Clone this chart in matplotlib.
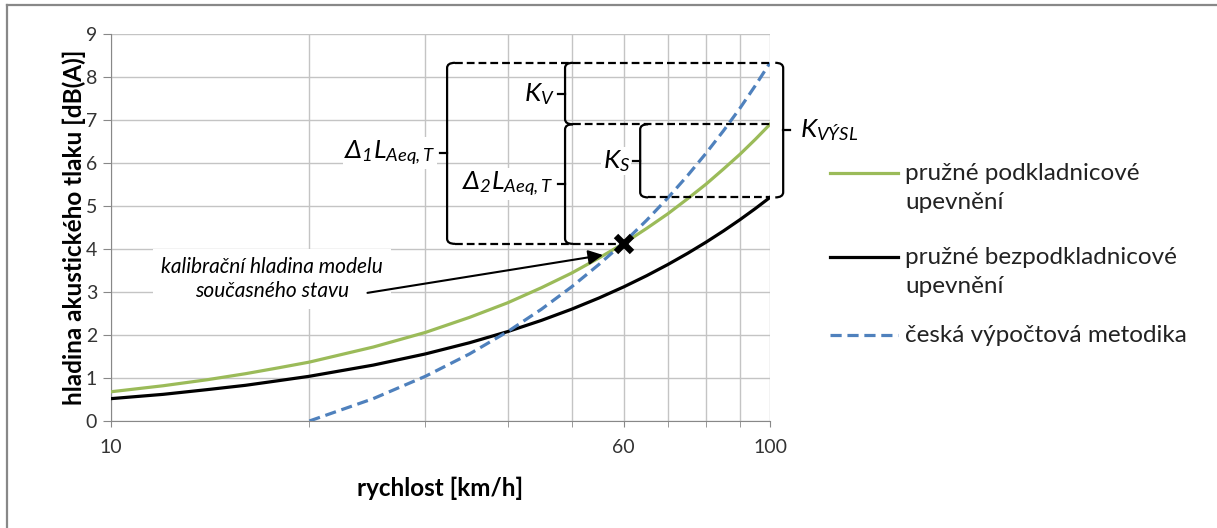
import matplotlib
matplotlib.use("Agg")
import matplotlib.pyplot as plt
from matplotlib.lines import Line2D
from matplotlib.path import Path
from matplotlib.patches import PathPatch
import matplotlib.transforms as mtransforms

plt.rcParams['font.family'] = ['Lato', 'DejaVu Sans']
plt.rcParams['mathtext.fontset'] = 'custom'
plt.rcParams['mathtext.it'] = 'Lato:italic'
plt.rcParams['mathtext.rm'] = 'Lato:italic'
plt.rcParams['mathtext.bf'] = 'Lato:bold'

# data
speed = [10, 12, 14, 16, 18, 20, 25, 30, 35, 40, 45, 50, 55, 60, 65, 70, 75, 80, 85, 90, 95, 100]
podkladnicove = [0.68, 0.82, 0.96, 1.10, 1.24, 1.37, 1.72, 2.06, 2.41, 2.75, 3.10, 3.44, 3.79,
                 4.13, 4.48, 4.82, 5.17, 5.51, 5.86, 6.20, 6.55, 6.90]
bezpodkladnicove = [0.52, 0.62, 0.73, 0.83, 0.94, 1.04, 1.30, 1.56, 1.82, 2.08, 2.34, 2.60, 2.86,
                    3.12, 3.38, 3.64, 3.90, 4.16, 4.42, 4.68, 4.94, 5.20]
speed_cz = [20, 25, 30, 35, 40, 45, 50, 55, 60, 65, 70, 75, 80, 85, 90, 95, 100]
metodika = [0.0, 0.52, 1.04, 1.56, 2.08, 2.60, 3.12, 3.64, 4.15, 4.67, 5.19, 5.71, 6.23,
            6.75, 7.27, 7.80, 8.33]
calib_speed = 60
calib_level = 4.12

names = ['pružné podkladnicové\nupevnění', 'pružné bezpodkladnicové\nupevnění', 'česká výpočtová metodika']
colors = ['#9bbb59', '#000000', '#4f81bd']

fig = plt.figure(figsize=(12.17, 5.28), dpi=100)
ax = fig.add_axes([111 / 1217, 107 / 528, 659 / 1217, 387 / 528])

ax.plot(speed, podkladnicove, color=colors[0], lw=2.3, zorder=4)
ax.plot(speed, bezpodkladnicove, color=colors[1], lw=2.3, zorder=4)
ax.plot(speed_cz, metodika, color=colors[2], lw=2.3, dashes=(3.5, 1.8), zorder=4)
ax.plot([calib_speed], [calib_level], marker='x', color='black', ms=11, mew=4.5, zorder=6)

ax.set_xscale('log')
ax.set_xlim(10, 100)
ax.set_ylim(0, 9)
ax.set_xticks([10, 60, 100])
ax.set_xticklabels(['10', '60', '100'])
ax.set_xticks([20, 30, 40, 50, 70, 80, 90], minor=True)
ax.xaxis.set_minor_formatter(matplotlib.ticker.NullFormatter())
ax.set_yticks(range(0, 10))
ax.grid(True, which='both', color='#c4c4c4', lw=1.0, zorder=0)
for s in ['top', 'right']:
    ax.spines[s].set_visible(False)
for s in ['left', 'bottom']:
    ax.spines[s].set_color('#888888')
ax.tick_params(axis='both', which='both', colors='#888888', labelcolor='#333333', labelsize=14)
ax.tick_params(axis='y', length=6, pad=4)
ax.tick_params(axis='x', which='both', length=4, pad=9)

ax.set_xlabel('rychlost [km/h]', fontsize=17.5, fontweight='bold', labelpad=15)
ax.set_ylabel('hladina akustického tlaku [dB(A)]', fontsize=17.5, fontweight='bold', labelpad=0)

# brackets: x in axes fraction, y in data
blend = mtransforms.blended_transform_factory(ax.transAxes, ax.transData)
stub = 0.012
tick = 0.011


def bracket(x, y0, y1, side, label, lx_off):
    d = stub if side == 'left' else -stub
    t = -tick if side == 'left' else tick
    ym = (y0 + y1) / 2
    r = 0.12
    verts = [(x + d, y0), (x, y0), (x, y0 + r), (x, y1 - r), (x, y1), (x + d, y1)]
    codes = [Path.MOVETO, Path.CURVE3, Path.CURVE3, Path.LINETO, Path.CURVE3, Path.CURVE3]
    ax.add_patch(PathPatch(Path(verts, codes), fc='none', ec='black', lw=1.6,
                           transform=blend, clip_on=False, zorder=5))
    ax.plot([x, x + t], [ym, ym], color='black', lw=1.6, transform=blend, clip_on=False, zorder=5)
    ax.annotate(label, xy=(x + t, ym), xycoords=blend, xytext=(lx_off, 0), textcoords='offset points',
                ha='right' if side == 'left' else 'left', va='center', fontsize=19,
                bbox=dict(fc='white', ec='none', pad=1), zorder=3)


top = metodika[-1]
mid = podkladnicove[-1]
low = bezpodkladnicove[-1]

dash_kw = dict(color='black', lw=1.6, dashes=(3.5, 1.8), transform=blend, clip_on=False, zorder=5)
ax.plot([0.51 + stub, 1.0], [top, top], **dash_kw)
ax.plot([0.689 + stub, 1.0], [mid, mid], **dash_kw)
ax.plot([0.803 + stub, 1.0], [low, low], **dash_kw)
ax.plot([0.51 + stub, 0.772], [calib_level, calib_level], **dash_kw)

bracket(0.51, calib_level, top, 'left', r'$\Delta_1 L_{Aeq,T}$', -3)
bracket(0.689, mid, top, 'left', r'$K_V$', -2)
bracket(0.689, calib_level, mid, 'left', r'$\Delta_2 L_{Aeq,T}$', -3)
bracket(0.803, low, mid, 'left', r'$K_S$', -2)
bracket(1.02, low, top, 'right', r'$K_{VÝSL}$', 7)

ax.text(17.55, 3.3, 'kalibrační hladina modelu\nsoučasného stavu', style='italic', fontsize=15,
        ha='center', va='center', linespacing=1.25, bbox=dict(fc='white', ec='none', pad=6), zorder=3)
ax.annotate('', xy=(55.8, 3.86), xytext=(24.5, 2.98),
            arrowprops=dict(arrowstyle='-|>', color='black', lw=1.5, mutation_scale=22,
                            shrinkA=0, shrinkB=0), zorder=5)

# legend drawn by hand (handle next to first line of the label)
leg_y = [173, 257, 335]
for name, c, y, ls in zip(names, colors, leg_y, ['-', '-', '--']):
    fy = 1 - y / 528
    ln = Line2D([830 / 1217, 898 / 1217], [fy, fy], color=c, lw=2.3, transform=fig.transFigure)
    if ls == '--':
        ln.set_dashes((3.5, 1.8))
    fig.add_artist(ln)
    fig.text(905 / 1217, fy + 0.019, name, fontsize=17.5, color='#222222', va='top', linespacing=1.5)

# outer chart frame (left and top edges)
fig.add_artist(Line2D([7 / 1217, 7 / 1217], [0, 1 - 5 / 528], color='#888888', lw=1.6, transform=fig.transFigure))
fig.add_artist(Line2D([7 / 1217, 1], [1 - 5 / 528, 1 - 5 / 528], color='#888888', lw=1.6, transform=fig.transFigure))

fig.savefig('out.png', dpi=100)
